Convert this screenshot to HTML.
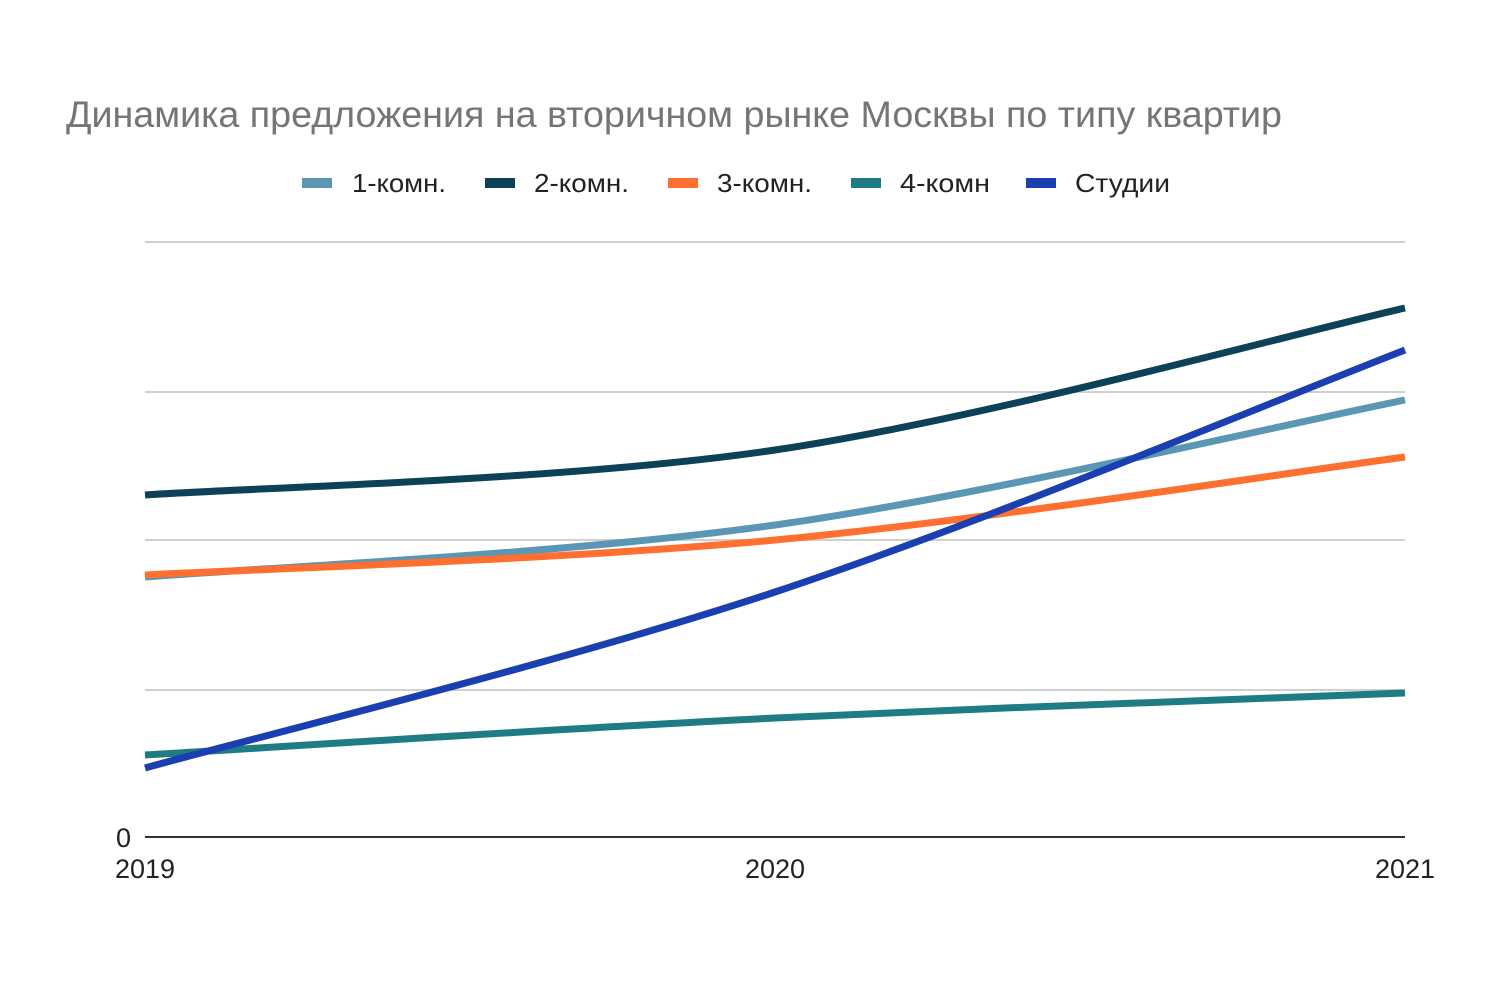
<!DOCTYPE html>
<html><head><meta charset="utf-8"><style>
html,body{margin:0;padding:0;background:#fff;}
svg{display:block;font-family:"Liberation Sans",Arial,sans-serif;}
</style></head><body>
<svg width="1500" height="1000" viewBox="0 0 1500 1000">
<rect width="1500" height="1000" fill="#fff"/>
<text x="66" y="127" font-size="37" fill="#757575" textLength="1216" lengthAdjust="spacingAndGlyphs">Динамика предложения на вторичном рынке Москвы по типу квартир</text>
<g font-size="26" fill="#222">
<rect x="302" y="178" width="30" height="10" fill="#5b97b5"/><text x="352" y="192" textLength="94" lengthAdjust="spacingAndGlyphs">1-комн.</text>
<rect x="485" y="178" width="30" height="10" fill="#0d4157"/><text x="534" y="192" textLength="95" lengthAdjust="spacingAndGlyphs">2-комн.</text>
<rect x="668" y="178" width="30" height="10" fill="#ff6f30"/><text x="717" y="192" textLength="95" lengthAdjust="spacingAndGlyphs">3-комн.</text>
<rect x="851" y="178" width="30" height="10" fill="#1f7c85"/><text x="900" y="192" textLength="90" lengthAdjust="spacingAndGlyphs">4-комн</text>
<rect x="1026" y="178" width="30" height="10" fill="#1a3fb0"/><text x="1075" y="192" textLength="95" lengthAdjust="spacingAndGlyphs">Студии</text>
</g>
<g stroke="#d0d0d0" stroke-width="2">
<line x1="145" y1="242" x2="1405" y2="242"/>
<line x1="145" y1="392" x2="1405" y2="392"/>
<line x1="145" y1="540" x2="1405" y2="540"/>
<line x1="145" y1="690" x2="1405" y2="690"/>
</g>
<line x1="145" y1="837" x2="1405" y2="837" stroke="#333" stroke-width="2"/>
<g font-size="27" fill="#222">
<text x="131" y="847" text-anchor="end">0</text>
<text x="145" y="878" text-anchor="middle">2019</text>
<text x="775" y="878" text-anchor="middle">2020</text>
<text x="1405" y="878" text-anchor="middle">2021</text>
</g>
<g fill="none" stroke-width="7" stroke-linecap="butt">
<path d="M145,755 C250,748.8 565,728.3 775,718 C985,707.7 1300,697.2 1405,693" stroke="#1f7c85"/>
<path d="M145,577 C250,568.3 565,554.5 775,525 C985,495.5 1300,420.8 1405,400" stroke="#5b97b5"/>
<path d="M145,575 C250,569.2 565,559.7 775,540 C985,520.3 1300,470.8 1405,457" stroke="#ff6f30"/>
<path d="M145,495 C250,487.5 565,481 775,450 C985,419 1300,331.7 1405,308" stroke="#0d4157"/>
<path d="M145,768 C250,738.7 565,661.7 775,592 C985,522.3 1300,390.3 1405,350" stroke="#1a3fb0"/>
</g>
</svg>
</body></html>
